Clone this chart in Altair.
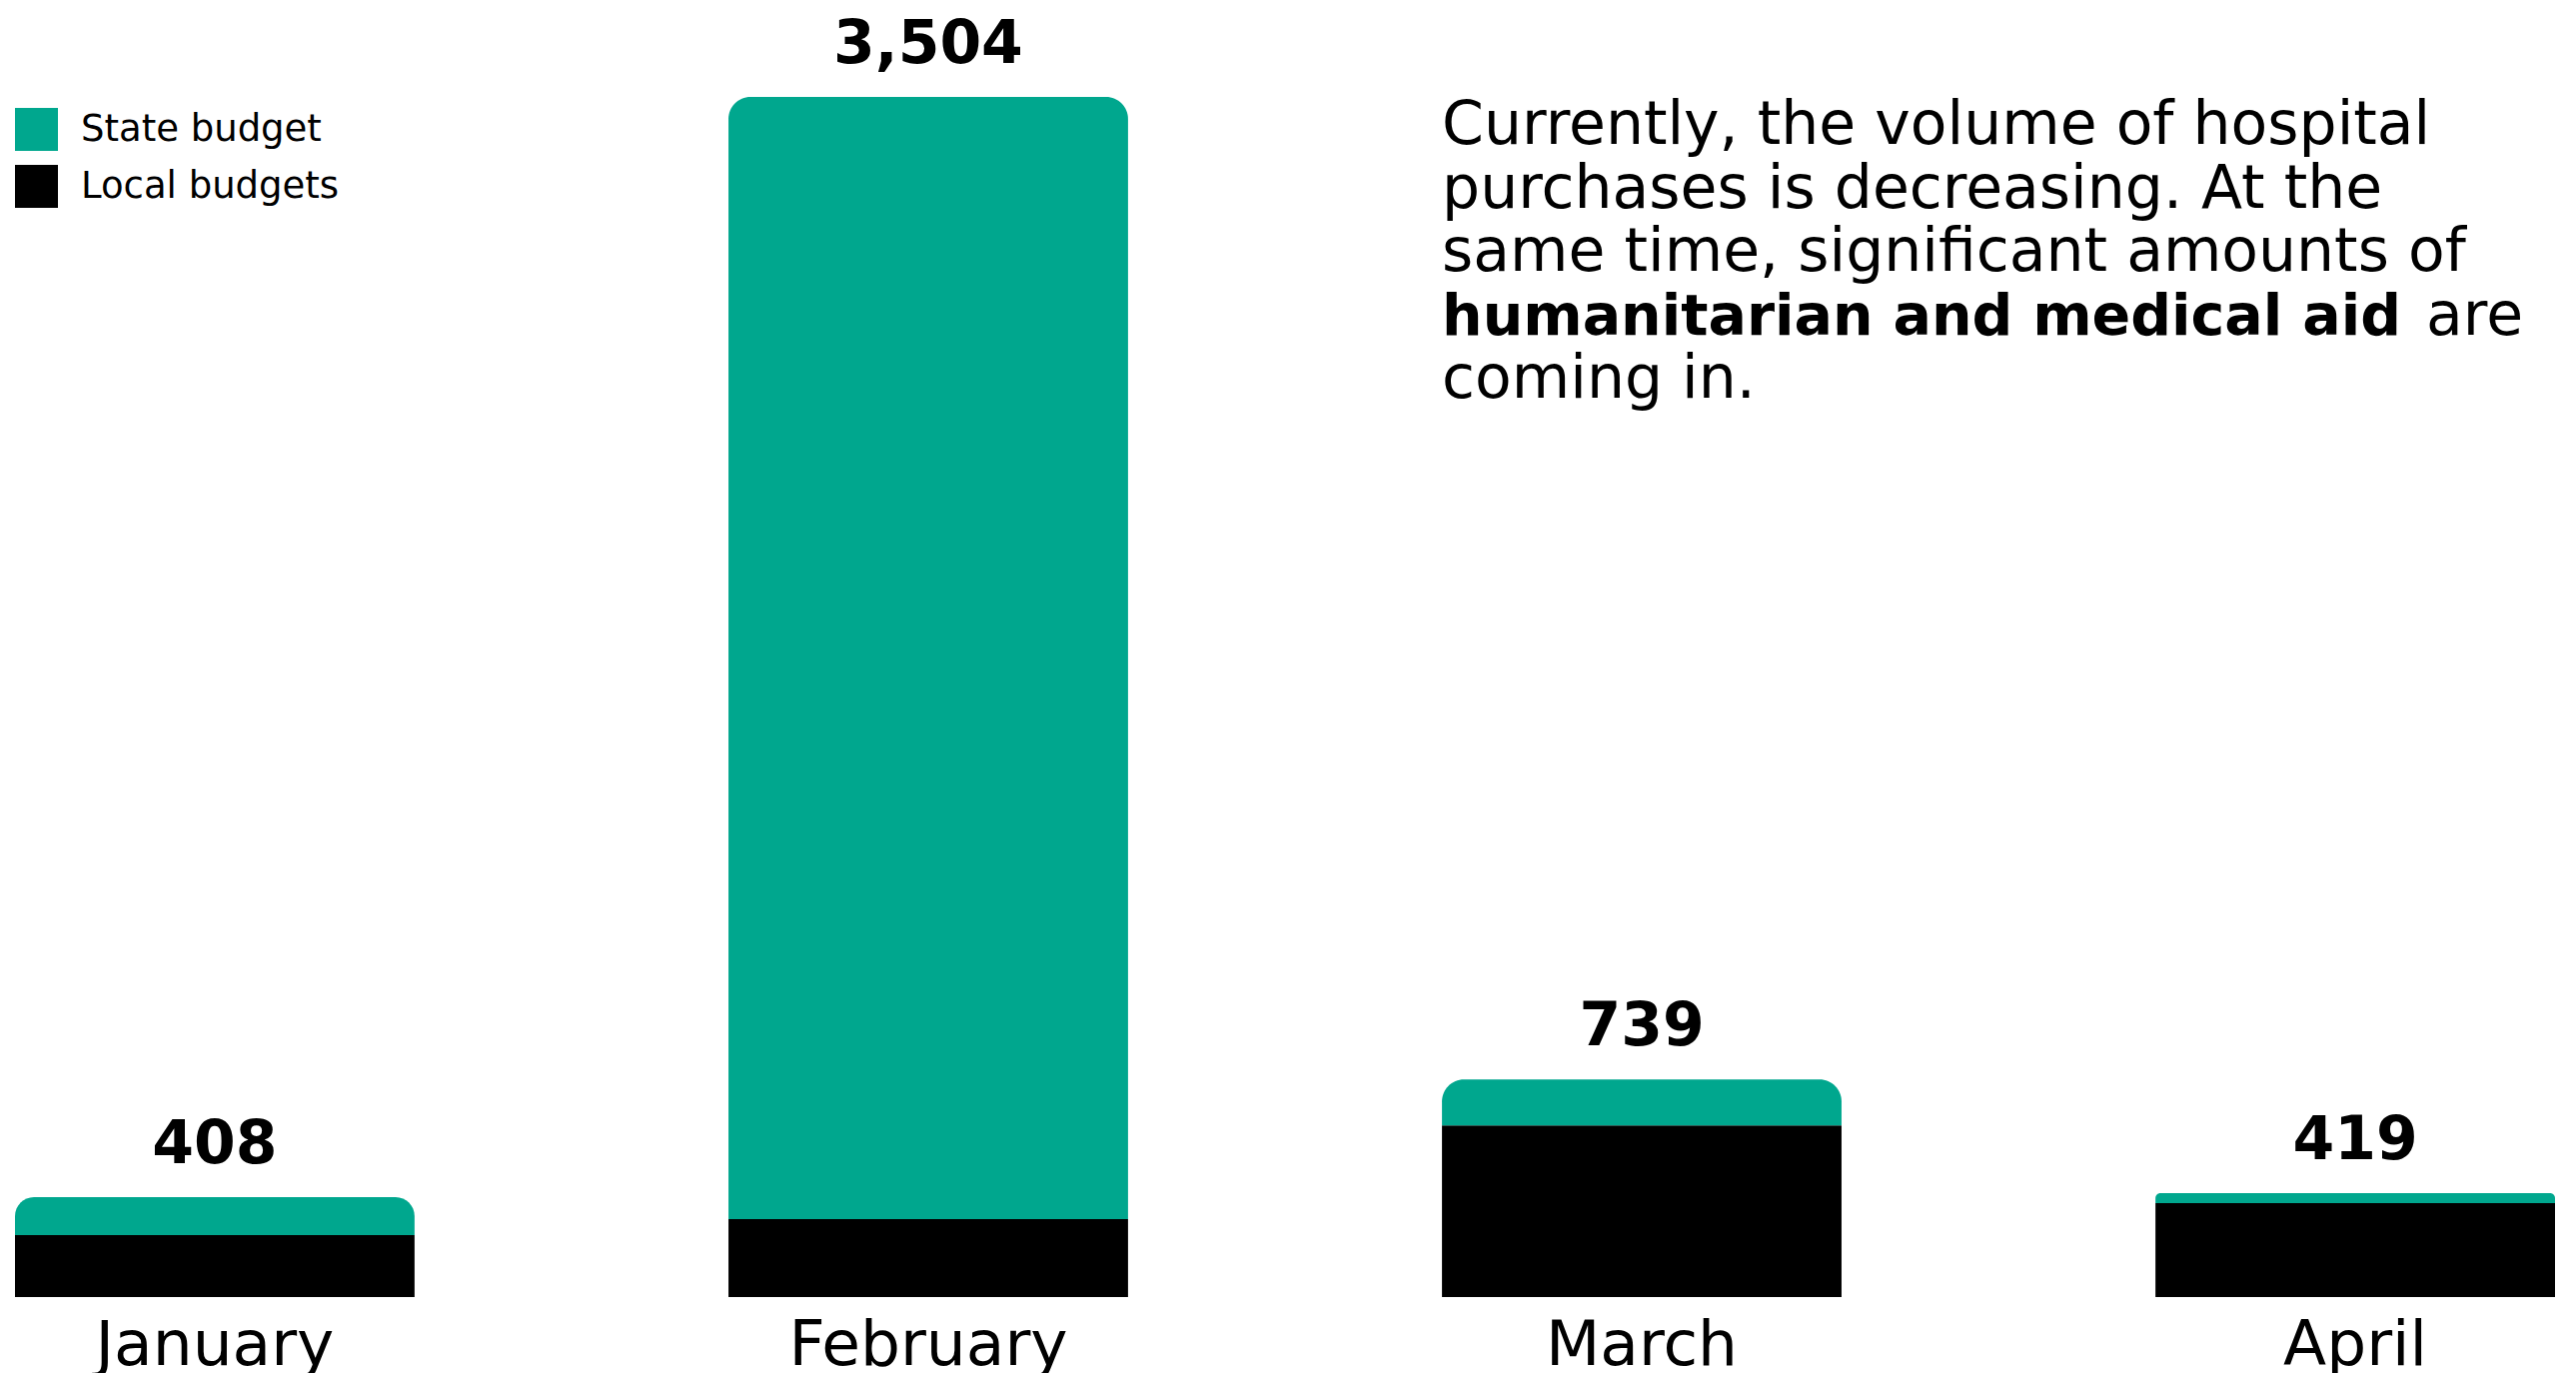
import altair as alt
import pandas as pd

# ---- data ----
months = ["January", "February", "March", "April"]
totals = [408, 3504, 739, 419]
local_budgets = [301, 346, 610, 391]
state_budgets = [t - l for t, l in zip(totals, local_budgets)]
series = ["State budget", "Local budgets"]
colors = ["#00a78e", "#000000"]

note_lines = [
    "Currently, the volume of hospital",
    "purchases is decreasing. At the",
    "same time, significant amounts of",
]
note_bold = "humanitarian and medical aid"
note_tail = "are"
note_last = "coming in."

FONT = "DejaVu Sans"

rows = []
for m, t, l, s in zip(months, totals, local_budgets, state_budgets):
    rows.append(dict(month=m, series="Local budgets", y0=0, y1=l, total=t))
    rows.append(dict(month=m, series="State budget", y0=l, y1=l + s, total=t))
df = pd.DataFrame(rows)

W, H = 2542, 1290
ymin, ymax = 126.8, 3754.3

xaxis = alt.Axis(
    title=None, domain=False, ticks=False, tickSize=0, grid=False,
    labelFontSize=63, labelFont=FONT, labelColor="#000000",
    labelPadding=67, labelBaseline="alphabetic", labelAngle=0, labelLimit=1000,
)
xscale = alt.Scale(paddingInner=0.44, paddingOuter=0)
x = alt.X("month:N", sort=months, scale=xscale, axis=xaxis)
yscale = alt.Scale(domain=[ymin, ymax], zero=False, nice=False)
color = alt.Color(
    "series:N",
    scale=alt.Scale(domain=series, range=colors),
    legend=alt.Legend(
        orient="none", legendX=0, legendY=100, title=None,
        symbolType="square", symbolSize=1849, symbolStrokeWidth=0,
        symbolOpacity=1, labelFontSize=37, labelFont=FONT, labelLimit=1000,
        labelColor="#000000", labelOffset=23, rowPadding=14, padding=0,
    ),
)

base = alt.Chart(df)
local = base.transform_filter(alt.datum.series == "Local budgets").mark_bar(clip=True).encode(
    x=x, y=alt.Y("y0:Q", scale=yscale, axis=None), y2="y1:Q", color=color
)
state = base.transform_filter(alt.datum.series == "State budget").mark_bar(
    clip=True, cornerRadiusTopLeft=22, cornerRadiusTopRight=22
).encode(
    x=x, y=alt.Y("y0:Q", scale=yscale, axis=None), y2="y1:Q", color=color
)
labels = base.transform_filter(alt.datum.series == "State budget").mark_text(
    font=FONT, fontSize=60, fontWeight="bold", baseline="alphabetic", dy=-34, color="#000000"
).encode(
    x=x, y=alt.Y("total:Q", scale=yscale, axis=None), text=alt.Text("total:Q", format=",")
)

note_df = pd.DataFrame({"month": ["March"]})
note_x = alt.X("month:N", sort=months, bandPosition=0, scale=xscale, axis=xaxis)
LH = 63.5
Y0 = 136
FS = 60
note_main = alt.Chart(note_df).mark_text(
    font=FONT, fontSize=FS, align="left", baseline="alphabetic", lineHeight=LH, color="#000000"
).encode(x=note_x, y=alt.value(Y0), text=alt.value(note_lines))
note_b = alt.Chart(note_df).mark_text(
    font=FONT, fontSize=57, fontWeight="bold", align="left", baseline="alphabetic", color="#000000"
).encode(x=note_x, y=alt.value(Y0 + 3 * LH), text=alt.value(note_bold))
note_t = alt.Chart(note_df).mark_text(
    font=FONT, fontSize=FS, align="left", baseline="alphabetic", dx=985, color="#000000"
).encode(x=note_x, y=alt.value(Y0 + 3 * LH), text=alt.value(note_tail))
note_l = alt.Chart(note_df).mark_text(
    font=FONT, fontSize=FS, align="left", baseline="alphabetic", color="#000000"
).encode(x=note_x, y=alt.value(Y0 + 4 * LH), text=alt.value(note_last))

chart = alt.layer(local, state, labels, note_main, note_b, note_t, note_l).properties(
    width=W, height=H, autosize="none", background="#ffffff",
    padding={"left": 7, "top": 0, "right": 0, "bottom": 80},
).configure_view(strokeWidth=0, stroke=None)

chart.save("out.html", embed_options={"renderer": "svg", "actions": False})
